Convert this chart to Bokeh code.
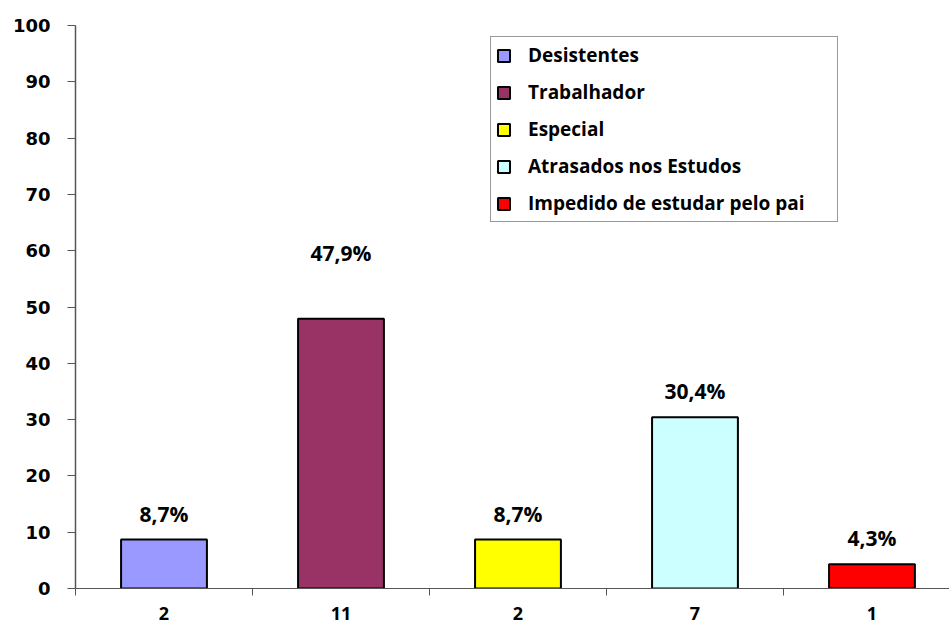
from bokeh.plotting import figure
from bokeh.models import (Range1d, FixedTicker, Legend, LegendItem, LabelSet,
                          ColumnDataSource, LinearAxis)
from bokeh.core.properties import value
from bokeh.embed import file_html
from bokeh.resources import INLINE

# ---- data ----
categories = ["Desistentes", "Trabalhador", "Especial", "Atrasados nos Estudos",
              "Impedido de estudar pelo pai"]
counts = ["2", "11", "2", "7", "1"]
percent = [8.7, 47.9, 8.7, 30.4, 4.3]
pct_labels = ["8,7%", "47,9%", "8,7%", "30,4%", "4,3%"]
colors = ["#9999FF", "#993366", "#FFFF00", "#CCFFFF", "#FF0000"]
y_ticks = [0, 10, 20, 30, 40, 50, 60, 70, 80, 90, 100]

# label lift above bar tops (px)
label_lift = [26, 66, 26, 26, 26]

n = len(categories)
xs = [i + 0.5 for i in range(n)]

p = figure(width=949, height=628, output_backend="svg", toolbar_location=None,
           x_range=Range1d(0, 4.938), y_range=Range1d(0, 100),
           min_border_left=75, min_border_right=0, min_border_top=25,
           min_border_bottom=40, x_axis_location=None, y_axis_location=None)
p.outline_line_color = None
p.xgrid.visible = False
p.ygrid.visible = False
p.background_fill_color = "white"

# y axis
yax = LinearAxis(ticker=FixedTicker(ticks=y_ticks, minor_ticks=[]))
yax.axis_line_color = "#555555"
yax.axis_line_width = 1.5
yax.major_tick_line_color = "#555555"
yax.major_tick_out = 8
yax.major_tick_in = 0
yax.minor_tick_out = 0
yax.major_label_standoff = 17
yax.major_label_text_font = "DejaVu Sans"
yax.major_label_text_font_style = "bold"
yax.major_label_text_font_size = "18px"
yax.major_label_text_color = "black"
p.add_layout(yax, "left")

# x axis: labels at centers, ticks at boundaries (minor ticks)
xax = LinearAxis(ticker=FixedTicker(ticks=xs, minor_ticks=list(range(n + 1))))
xax.axis_line_color = "#555555"
xax.axis_line_width = 1.2
xax.major_tick_out = 0
xax.major_tick_in = 0
xax.minor_tick_line_color = "#555555"
xax.minor_tick_out = 7
xax.minor_tick_in = 0
xax.major_label_overrides = {x: c for x, c in zip(xs, counts)}
xax.major_label_standoff = 11
xax.major_label_text_font = "Open Sans"
xax.major_label_text_font_style = "bold"
xax.major_label_text_font_size = "18px"
xax.major_label_text_color = "black"
p.add_layout(xax, "below")

items = []
for i in range(n):
    src = ColumnDataSource(dict(x=[xs[i]], top=[percent[i]]))
    r = p.vbar(x="x", top="top", bottom=0, width=0.485, source=src,
               fill_color=colors[i], line_color="black", line_width=2)
    items.append(LegendItem(label=categories[i], renderers=[r]))

lsrc = ColumnDataSource(dict(x=xs, y=percent, t=pct_labels, lift=label_lift))
labels = LabelSet(x="x", y="y", text="t", source=lsrc, y_offset="lift",
                  text_align="center", text_baseline="middle",
                  text_font=value("Open Sans"), text_font_style="bold",
                  text_font_size="21px", text_color="black")
p.add_layout(labels)

legend = Legend(items=items, location=(415, 366), orientation="vertical")
legend.border_line_color = "#333333"
legend.border_line_width = 1.2
legend.background_fill_color = "white"
legend.background_fill_alpha = 1
legend.padding = 5
legend.margin = 0
legend.spacing = 11
legend.label_height = 20
legend.glyph_width = 15
legend.glyph_height = 15
legend.label_standoff = 17
legend.label_width = 304
legend.label_text_font = "Open Sans"
legend.label_text_font_style = "bold"
legend.label_text_font_size = "19px"
legend.label_text_color = "black"
legend.label_text_baseline = "middle"
p.add_layout(legend, "center")

open("out.html", "w").write(file_html(p, INLINE))
